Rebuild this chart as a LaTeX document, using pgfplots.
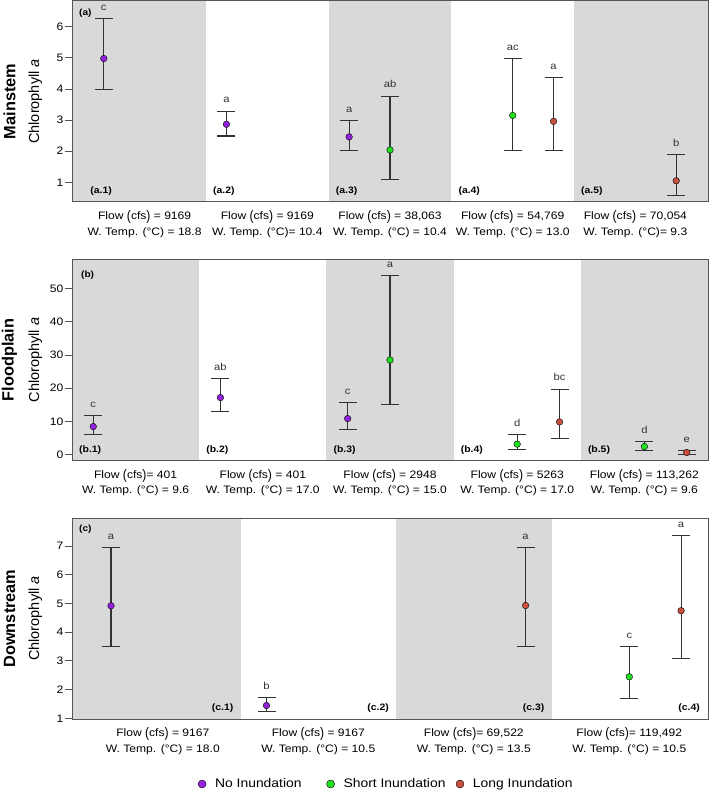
\documentclass[border=0pt]{standalone}
\usepackage{graphicx}
\usepackage{pgfplots}
\usepackage{pgfplotstable}
\pgfplotsset{compat=1.18}
\usepackage{fontspec}
\setmainfont[FakeStretch=1.12]{Liberation Sans}
\newfontfamily\upsans{Liberation Sans}

\definecolor{noinund}{HTML}{9422DB}
\definecolor{shortinund}{HTML}{20E020}
\definecolor{longinund}{HTML}{C8503C}
\definecolor{band}{HTML}{D9D9D9}
\definecolor{frame}{HTML}{555555}
\definecolor{whisk}{HTML}{333333}

% tall parentheses around the flow unit
\newcommand\lpar{\raisebox{-0.1em}{\scalebox{1}[1.28]{(}}}
\newcommand\rpar{\raisebox{-0.1em}{\scalebox{1}[1.28]{)}}}
\newcommand\cfs{Flow \lpar cfs\rpar}

% columns: position, mean, upper whisker, lower whisker, group letter
\pgfplotstableread{
x     y     hi    lo    lab
0.667 4.98  6.26  3.97  c
1.667 2.865 3.29  2.49  a
2.667 2.46  2.98  2.03  a
}\mainNo
\pgfplotstableread{
x     y     hi    lo    lab
3     2.04  3.77  1.10  ab
4     3.15  4.97  2.01  ac
}\mainShort
\pgfplotstableread{
x     y     hi    lo    lab
4.333 2.96  4.36  2.01  a
5.333 1.05  1.90  0.58  b
}\mainLong
\pgfplotstableread{
x     y     hi    lo    lab
0.667 8.43  11.66 6.14  c
1.667 17.17 22.8  12.95 ab
2.667 10.84 15.66 7.44  c
}\floodNo
\pgfplotstableread{
x     y     hi    lo    lab
3     28.5  53.9  15.06 a
4     3.13  6.02  1.51  d
5     2.41  3.92  1.20  d
}\floodShort
\pgfplotstableread{
x     y     hi    lo    lab
4.333 9.85  19.7  4.93  bc
5.333 0.6   1.1   0.1   e
}\floodLong
\pgfplotstableread{
x     y     hi    lo    lab
0.667 4.92  6.94  3.49  a
1.667 1.45  1.72  1.23  b
}\downNo
\pgfplotstableread{
x     y     hi    lo    lab
4     2.45  3.49  1.70  c
}\downShort
\pgfplotstableread{
x     y     hi    lo    lab
3.333 4.93  6.94  3.51  a
4.333 4.75  7.37  3.07  a
}\downLong

\tikzset{
  seclab/.style={inner sep=0pt, font=\fontsize{9.3bp}{10bp}\selectfont\bfseries},
  panlab/.style={anchor=north west, inner sep=0pt, font=\fontsize{9bp}{10bp}\selectfont\bfseries},
  rowlab/.style={rotate=90, font=\upsans\bfseries\fontsize{16.3bp}{17bp}\selectfont},
}
\pgfplotsset{
  panel/.style={
    scale only axis, width=636bp, height=201bp, anchor=north west,
    axis on top, clip mode=individual,
    axis line style={frame, line width=1bp},
    tick align=outside, ytick pos=left, major tick length=7bp,
    xtick style={draw=none},
    ytick style={frame, line width=1bp},
    yticklabel style={font=\fontsize{10.8bp}{12bp}\selectfont, inner sep=1.5bp,
      /pgf/number format/assume math mode=true},
    xticklabel style={align=center, anchor=north, inner sep=0pt, yshift=-1.5bp,
      font=\fontsize{10.8bp}{15.5bp}\selectfont},
    ylabel style={at={(axis description cs:-0.0574,0.5)}, anchor=center,
      font=\upsans\fontsize{14.5bp}{15bp}\selectfont},
    ylabel={Chlorophyll \textit{a}},
  },
  grp/.style={only marks, mark=*, mark size=3.3bp,
    mark options={fill=#1, draw=black, line width=0.4bp},
    error bars/y dir=both, error bars/y explicit,
    error bars/error bar style={whisk, line width=1.1bp},
    error bars/error mark options={rotate=90, whisk, line width=1.1bp, mark size=9bp}},
  lett/.style={only marks, mark=none, nodes near coords, point meta=explicit symbolic,
    nodes near coords style={anchor=south, inner sep=0pt, yshift=8bp, text=whisk,
      font=\fontsize{10bp}{10bp}\selectfont}},
  bandfill/.style={fill=band, draw=none, forget plot},
}
\newcommand\series[2]{%
  \addplot[grp=#1, forget plot] table[x=x, y=y,
    y error plus expr=\thisrow{hi}-\thisrow{y},
    y error minus expr=\thisrow{y}-\thisrow{lo}] #2;
  \addplot[lett, forget plot] table[x=x, y=hi, meta=lab] #2;}

\begin{document}
\begin{tikzpicture}
\path[use as bounding box] (0,0) rectangle (709bp,-796bp);

% ---------------- Mainstem ----------------
\begin{axis}[panel, at={(72bp,-1bp)},
  xmin=0.408, xmax=5.592, ymin=0.367, ymax=6.83,
  ytick={1,2,3,4,5,6}, xtick={1,2,3,4,5},
  xticklabels={{\cfs{} = 9169\\W. Temp. (°C) = 18.8},
               {\cfs{} = 9169\\W. Temp. (°C)= 10.4},
               {\cfs{} = 38,063\\W. Temp. (°C) = 10.4},
               {\cfs{} = 54,769\\W. Temp. (°C) = 13.0},
               {\cfs{} = 70,054\\W. Temp. (°C)= 9.3}}]
  \addplot[bandfill] coordinates {(-1,-10) (1.5,-10) (1.5,20) (-1,20)} -- cycle;
  \addplot[bandfill] coordinates {(2.5,-10) (3.5,-10) (3.5,20) (2.5,20)} -- cycle;
  \addplot[bandfill] coordinates {(4.5,-10) (7,-10) (7,20) (4.5,20)} -- cycle;
  \series{noinund}{\mainNo}
  \series{shortinund}{\mainShort}
  \series{longinund}{\mainLong}
  \node[panlab] at ([shift={(7bp,-8bp)}]rel axis cs:0,1) {(a)};
  \node[seclab, anchor=south west] at ([shift={(7bp,6bp)}]axis cs:0.5,0.367) {(a.1)};
  \node[seclab, anchor=south west] at ([shift={(7bp,6bp)}]axis cs:1.5,0.367) {(a.2)};
  \node[seclab, anchor=south west] at ([shift={(7bp,6bp)}]axis cs:2.5,0.367) {(a.3)};
  \node[seclab, anchor=south west] at ([shift={(7bp,6bp)}]axis cs:3.5,0.367) {(a.4)};
  \node[seclab, anchor=south west] at ([shift={(7bp,6bp)}]axis cs:4.5,0.367) {(a.5)};
\end{axis}
\node[rowlab] at (9.5bp,-101.5bp) {Mainstem};

% ---------------- Floodplain ----------------
\begin{axis}[panel, at={(72bp,-259.5bp)},
  xmin=0.5, xmax=5.5, ymin=-1.8, ymax=58.8,
  ytick={0,10,20,30,40,50}, xtick={1,2,3,4,5},
  xticklabels={{\cfs{}= 401\\W. Temp. (°C) = 9.6},
               {\cfs{} = 401\\W. Temp. (°C) = 17.0},
               {\cfs{} = 2948\\W. Temp. (°C) = 15.0},
               {\cfs{} = 5263\\W. Temp. (°C) = 17.0},
               {\cfs{} = 113,262\\W. Temp. (°C) = 9.6}}]
  \addplot[bandfill] coordinates {(-1,-100) (1.5,-100) (1.5,200) (-1,200)} -- cycle;
  \addplot[bandfill] coordinates {(2.5,-100) (3.5,-100) (3.5,200) (2.5,200)} -- cycle;
  \addplot[bandfill] coordinates {(4.5,-100) (7,-100) (7,200) (4.5,200)} -- cycle;
  \series{noinund}{\floodNo}
  \series{shortinund}{\floodShort}
  \series{longinund}{\floodLong}
  \node[panlab] at ([shift={(9bp,-11.5bp)}]rel axis cs:0,1) {(b)};
  \node[seclab, anchor=south west] at ([shift={(7bp,6bp)}]axis cs:0.5,-1.8) {(b.1)};
  \node[seclab, anchor=south west] at ([shift={(7bp,6bp)}]axis cs:1.5,-1.8) {(b.2)};
  \node[seclab, anchor=south west] at ([shift={(7bp,6bp)}]axis cs:2.5,-1.8) {(b.3)};
  \node[seclab, anchor=south west] at ([shift={(7bp,6bp)}]axis cs:3.5,-1.8) {(b.4)};
  \node[seclab, anchor=south west] at ([shift={(7bp,6bp)}]axis cs:4.5,-1.8) {(b.5)};
\end{axis}
\node[rowlab] at (9.5bp,-360bp) {Floodplain};

% ---------------- Downstream ----------------
\begin{axis}[panel, at={(72bp,-518bp)},
  xmin=0.416, xmax=4.506, ymin=0.98, ymax=7.975,
  ytick={1,2,3,4,5,6,7}, xtick={1,2,3,4},
  xticklabels={{\cfs{} = 9167\\W. Temp. (°C) = 18.0},
               {\cfs{} = 9167\\W. Temp. (°C) = 10.5},
               {\cfs{}= 69,522\\W. Temp. (°C) = 13.5},
               {\cfs{}= 119,492\\W. Temp. (°C) = 10.5}},
  legend columns=3,
  legend style={at={(0.4943,-0.3234)}, anchor=center, draw=none, fill=none,
    column sep=0pt, font=\fontsize{12.4bp}{13bp}\selectfont},
  legend image code/.code={\draw[#1] plot coordinates {(0bp,0bp)};}]
  \addplot[bandfill] coordinates {(-1,-10) (1.5,-10) (1.5,20) (-1,20)} -- cycle;
  \addplot[bandfill] coordinates {(2.5,-10) (3.5,-10) (3.5,20) (2.5,20)} -- cycle;
  \series{noinund}{\downNo}
  \series{shortinund}{\downShort}
  \series{longinund}{\downLong}
  \node[panlab] at ([shift={(7bp,-7bp)}]rel axis cs:0,1) {(c)};
  \node[seclab, anchor=south east] at ([shift={(-7bp,6bp)}]axis cs:1.5,0.98) {(c.1)};
  \node[seclab, anchor=south east] at ([shift={(-7bp,6bp)}]axis cs:2.5,0.98) {(c.2)};
  \node[seclab, anchor=south east] at ([shift={(-7bp,6bp)}]axis cs:3.5,0.98) {(c.3)};
  \node[seclab, anchor=south east] at ([shift={(-7bp,6bp)}]axis cs:4.5,0.98) {(c.4)};
  \addlegendimage{only marks, mark=*, mark size=4bp, mark options={fill=noinund, draw=black, line width=0.4bp}}
  \addlegendentry{\hspace*{7bp}No Inundation\hspace*{23bp}}
  \addlegendimage{only marks, mark=*, mark size=4bp, mark options={fill=shortinund, draw=black, line width=0.4bp}}
  \addlegendentry{\hspace*{7bp}Short Inundation\hspace*{8.5bp}}
  \addlegendimage{only marks, mark=*, mark size=4bp, mark options={fill=longinund, draw=black, line width=0.4bp}}
  \addlegendentry{\hspace*{7bp}Long Inundation}
\end{axis}
\node[rowlab] at (9.5bp,-618.5bp) {Downstream};
\end{tikzpicture}
\end{document}
